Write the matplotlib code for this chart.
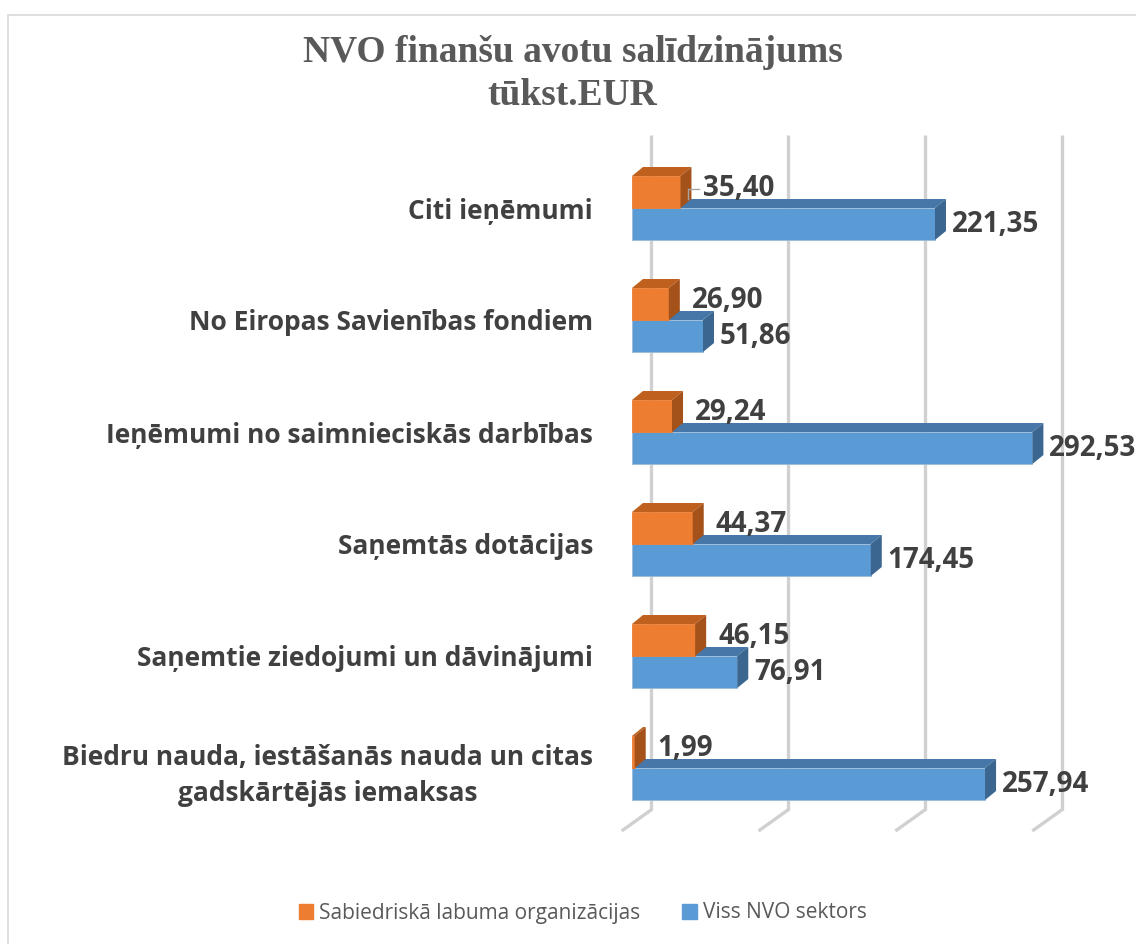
import matplotlib.pyplot as plt
from matplotlib.patches import Polygon, Rectangle
import numpy as np

# Kategorijas (no apakšas uz augšu) un vērtības, tūkst. EUR
categories = ["Biedru nauda, iestāšanās nauda un citas\ngadskārtējās iemaksas",
              "Saņemtie ziedojumi un dāvinājumi",
              "Saņemtās dotācijas",
              "Ieņēmumi no saimnieciskās darbības",
              "No Eiropas Savienības fondiem",
              "Citi ieņēmumi"]
sabiedriska = [1.99, 46.15, 44.37, 29.24, 26.90, 35.40]
viss_nvo = [257.94, 76.91, 174.45, 292.53, 51.86, 221.35]
ticks = [0, 100, 200, 300]

series_names = ["Sabiedriskā labuma organizācijas", "Viss NVO sektors"]

# krāsas: priekša, augša, sāns
orange = ("#ED7D31", "#C0601F", "#A4511A")
blue = ("#5B9BD5", "#4677A8", "#3B6690")

W, H = 1136, 944
fig = plt.figure(figsize=(W / 100, H / 100), dpi=100)

# rāmis ap diagrammu
fig.patches.append(Rectangle((8 / W, -0.05), 1.1, 1 - 15 / H + 0.05, transform=fig.transFigure,
                             fill=False, edgecolor="#D9D9D9", linewidth=1.2))

ax_left, ax_right = 632, 1070
ax_top, ax_bottom = 135, 830
ax = fig.add_axes([ax_left / W, 1 - ax_bottom / H, (ax_right - ax_left) / W, (ax_bottom - ax_top) / H])
xmax = 320
px = (ax_right - ax_left) / xmax      # pikseļi uz vienību x
py = 112                              # pikseļi uz vienu kategoriju
ymin = -62 / py
ax.set_xlim(0, xmax)
ax.set_ylim(ymin, ymin + (ax_bottom - ax_top) / py)

# 3D nobīdes
dx, dy = 11 / px, 9 / py
back_dx = 19 / px
floor_dx = -9 / px
floor_dy = 20 / py
bh = 32 / py

# režģa līnijas (aizmugurējā siena + grīda)
for t in ticks:
    xb = t + back_dx
    ax.plot([xb, xb], [ymin + floor_dy, ax.get_ylim()[1]], color="#D0D0D0", lw=2.4, zorder=0,
            solid_capstyle="butt")
    ax.plot([xb, t + floor_dx], [ymin + floor_dy, ymin], color="#D0D0D0", lw=2.4, zorder=0,
            clip_on=False)


def bar3d(y0, v, cols, z):
    ax.barh(y0, v, height=bh, left=0, align="edge", color=cols[0], edgecolor="#9DB9D9" if cols is blue else cols[0],
            linewidth=0.6, zorder=z)
    ax.add_patch(Polygon([(0, y0 + bh), (v, y0 + bh), (v + dx, y0 + bh + dy), (dx, y0 + bh + dy)],
                         closed=True, facecolor=cols[1], edgecolor="none", zorder=z))
    ax.add_patch(Polygon([(v, y0), (v + dx, y0 + dy), (v + dx, y0 + bh + dy), (v, y0 + bh)],
                         closed=True, facecolor=cols[2], edgecolor="none", zorder=z))


y = np.arange(len(categories))
lab_kw = dict(fontsize=20, fontweight="bold", color="#404040", family="Open Sans",
              ha="left", va="center", clip_on=False)
for i in y:
    bar3d(i - bh, viss_nvo[i], blue, 2 + (5 - i) * 2)
    bar3d(i, sabiedriska[i], orange, 3 + (5 - i) * 2)
    ax.text(viss_nvo[i] + dx + 6 / px, i - bh / 2, f"{viss_nvo[i]:.2f}".replace(".", ","),
            zorder=20, **lab_kw)
    ax.text(sabiedriska[i] + dx + 12 / px, i + bh / 2 + 0.03, f"{sabiedriska[i]:.2f}".replace(".", ","),
            zorder=20, **lab_kw)

# līdera līnija pie 35,40
v = sabiedriska[5]
ax.plot([v + dx - 3 / px, v + dx - 3 / px, v + dx + 8 / px], [5 + bh / 2 - 0.06, 5 + bh / 2 + 0.03, 5 + bh / 2 + 0.03],
        color="#A6A6A6", lw=1, zorder=15)

ax.set_yticks(y)
ax.set_yticklabels(categories, fontsize=19, fontweight="bold", color="#404040", family="Open Sans",
                   multialignment="center", linespacing=1.45)
ax.tick_params(axis="y", length=0, pad=28)
ax.set_xticks([])
for s in ax.spines.values():
    s.set_visible(False)

fig.text(0.504, 1 - 74 / H, "NVO finanšu avotu salīdzinājums\ntūkst.EUR", ha="center", va="center",
         family="Liberation Serif", fontweight="bold", fontsize=27, color="#595959", linespacing=1.3)

handles = [Rectangle((0, 0), 1, 1, color=orange[0]), Rectangle((0, 0), 1, 1, color=blue[0])]
fig.legend(handles, series_names, loc="center", bbox_to_anchor=(0.513, 1 - 913 / H), ncol=2, frameon=False,
           prop={"family": "Open Sans", "size": 15}, labelcolor="#595959", handlelength=0.7,
           handleheight=0.7, handletextpad=0.3, columnspacing=2.0)

fig.savefig("out.png", dpi=100)
